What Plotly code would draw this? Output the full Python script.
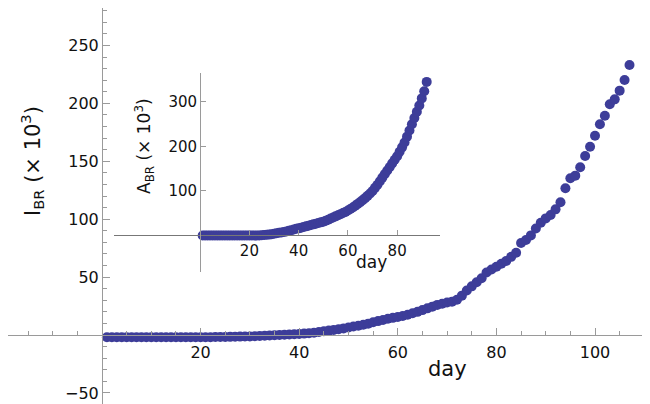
import plotly.graph_objects as go

# main series: I_BR (x 10^3) per day
days_i = list(range(1, 108))
i_br = [-2.0, -2.0, -2.0, -2.0, -2.0, -2.0, -2.0, -2.0, -2.0, -2.0,
        -2.0, -2.0, -2.0, -2.0, -2.0, -2.0, -2.0, -2.0, -2.0, -2.0,
        -1.9, -1.9, -1.8, -1.8, -1.7, -1.6, -1.5, -1.4, -1.3, -1.2,
        -1.0, -0.8, -0.6, -0.4, -0.2, 0.0, 0.2, 0.4, 0.6, 0.9,
        1.2, 1.6, 2.0, 2.6, 3.2, 3.8, 4.4, 5.0, 5.7, 6.5,
        7.3, 8.0, 8.8, 9.8, 11.0, 12.0, 13.0, 14.0, 14.8, 15.6,
        16.4, 17.5, 18.8, 20.0, 21.5, 23.0, 24.5, 26.0, 27.0, 28.0,
        28.8, 30.5, 34.0, 38.5, 42.0, 45.5, 49.0, 54.0, 56.5, 59.0,
        61.5, 64.0, 67.5, 71.0, 79.5, 82.0, 86.0, 92.0, 97.0, 100.7,
        103.6, 108.5, 114.6, 126.7, 135.3, 137.6, 144.8, 154.6, 162.6, 172.1,
        182.0, 189.4, 199.2, 203.5, 211.0, 220.2, 233.2]

# inset series: A_BR (x 10^3) per day
days_a = list(range(1, 93))
a_br = [0, 0, 0, 0, 0, 0, 0, 0, 0, 0,
        0, 0, 0, 0, 0, 0, 0, 0, 0, 0,
        0, 0, 0, 0, 0.5, 1, 1.5, 2, 3, 4,
        5, 6, 7, 8, 9, 10.5, 12, 13.5, 15, 16,
        17.5, 19, 20.5, 22, 23.5, 25, 26.5, 28, 29.5, 31,
        33, 35.5, 38, 40.5, 43, 45.5, 48, 50.5, 53, 56,
        59.5, 63, 67, 71, 75, 79.5, 84, 89, 94.5, 100,
        107, 114, 122, 130, 138, 146, 154, 162, 170, 178,
        188, 198, 209, 222, 236, 250, 264, 278, 292, 308,
        324, 345]

main_xticks = [20, 40, 60, 80, 100]
main_yticks = [-50, 50, 100, 150, 200, 250]
main_xminor = [-15, -10, -5, 5, 10, 15, 25, 30, 35, 45, 50, 55, 65, 70, 75,
               85, 90, 95, 105, 110]
main_yminor = [-40, -30, -20, -10, 10, 20, 30, 40, 60, 70, 80, 90, 110, 120,
               130, 140, 160, 170, 180, 190, 210, 220, 230, 240, 260, 270, 280]
inset_xticks = [20, 40, 60, 80]
inset_yticks = [100, 200, 300]

# the page body has an 8px margin, so the figure is a bit smaller and shifted
OFF = 8
W, H = 650 - OFF, 404 - OFF
COLOR = "#3d3d99"
AX = "#9a9a9a"
FONT = "DejaVu Sans"


def px(x):
    return (x - OFF) / W


def py(y):
    return 1 - (y - OFF) / H


xr = [-(102 - OFF) / 4.93, (650 - 102) / 4.93]
yr = [-(404 - 335) / 1.158, (335 - OFF) / 1.158]
ixr = [-35.0, 97.4]
iyr = [-82.0, 365.0]
ixdom = [px(114), px(440)]
iydom = [py(272), py(73)]

fig = go.Figure()
fig.add_trace(go.Scatter(x=days_i, y=i_br, mode="markers",
                         marker=dict(size=10, color=COLOR, line=dict(width=0)),
                         xaxis="x", yaxis="y", showlegend=False))
fig.add_trace(go.Scatter(x=days_a, y=a_br, mode="markers",
                         marker=dict(size=10, color=COLOR, line=dict(width=0)),
                         xaxis="x2", yaxis="y2", showlegend=False))

tickfont = dict(family=FONT, size=16, color="#111")
itickfont = dict(family=FONT, size=15, color="#111")

fig.update_layout(
    width=W, height=H,
    margin=dict(l=0, r=0, t=0, b=0),
    paper_bgcolor="white", plot_bgcolor="white",
    font=dict(family=FONT),
    xaxis=dict(domain=[0, 1], range=xr, anchor="free",
               position=(0 - yr[0]) / (yr[1] - yr[0]),
               showgrid=False, zeroline=False, showline=True,
               linecolor=AX, linewidth=1,
               tickmode="array", tickvals=main_xticks,
               ticks="inside", ticklen=7, tickcolor=AX, tickwidth=1,
               ticklabelstandoff=3,
               tickfont=tickfont, automargin=False,
               minor=dict(tickmode="array", tickvals=main_xminor,
                          ticks="inside", ticklen=4, tickcolor=AX,
                          showgrid=False)),
    yaxis=dict(domain=[0, 1], range=yr, anchor="free",
               position=(0 - xr[0]) / (xr[1] - xr[0]),
               showgrid=False, zeroline=False, showline=True,
               linecolor=AX, linewidth=1,
               tickmode="array", tickvals=main_yticks,
               ticks="inside", ticklen=7, tickcolor=AX, tickwidth=1,
               tickfont=tickfont, automargin=False,
               minor=dict(tickmode="array", tickvals=main_yminor,
                          ticks="inside", ticklen=4, tickcolor=AX,
                          showgrid=False)),
    xaxis2=dict(domain=ixdom, range=ixr, anchor="free",
                position=iydom[0] + (0 - iyr[0]) / (iyr[1] - iyr[0]) * (iydom[1] - iydom[0]),
                showgrid=False, zeroline=False, showline=True,
                linecolor="#777", linewidth=1,
                tickmode="array", tickvals=inset_xticks,
                ticks="inside", ticklen=5, tickcolor=AX,
                ticklabelstandoff=2,
                tickfont=itickfont, automargin=False),
    yaxis2=dict(domain=iydom, range=iyr, anchor="free",
                position=ixdom[0] + (0 - ixr[0]) / (ixr[1] - ixr[0]) * (ixdom[1] - ixdom[0]),
                showgrid=False, zeroline=False, showline=True,
                linecolor=AX, linewidth=1,
                tickmode="array", tickvals=inset_yticks,
                ticks="inside", ticklen=5, tickcolor=AX,
                tickfont=itickfont, automargin=False),
)

labels = [
    ("I<sub>BR</sub> (× 10<sup>3</sup>)", 32, 161, 21, -90),
    ("day", 447, 369, 21, 0),
    ("A<sub>BR</sub> (× 10<sup>3</sup>)", 144, 146, 17, -90),
    ("day", 372, 262, 17, 0),
]
for text, lx, ly, size, angle in labels:
    fig.add_annotation(text=text, textangle=angle, x=px(lx), y=py(ly),
                       xref="paper", yref="paper", xanchor="center", yanchor="middle",
                       showarrow=False, font=dict(family=FONT, size=size, color="#111"))

fig.write_html("out.html")
